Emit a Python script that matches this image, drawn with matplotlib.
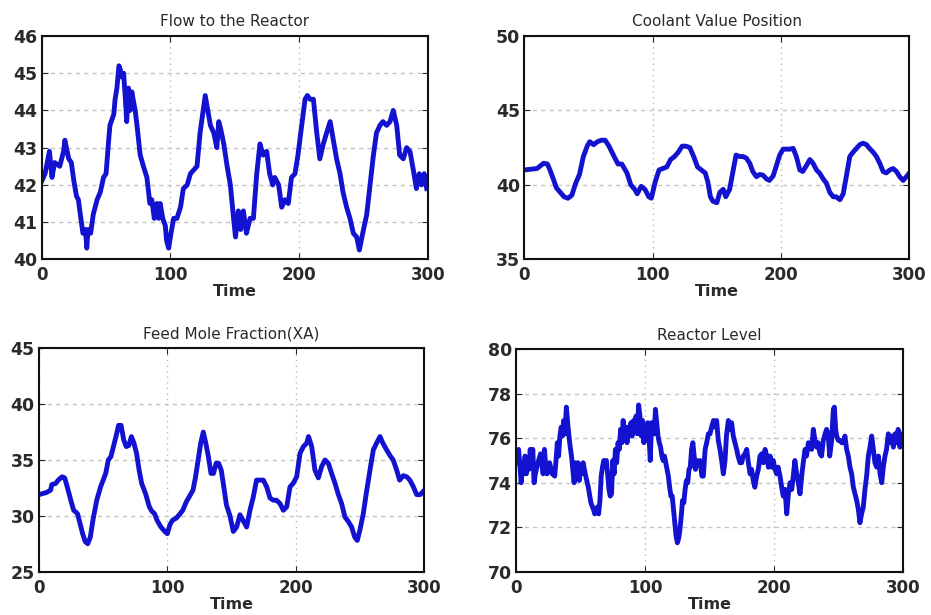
import matplotlib
matplotlib.use("Agg")
import matplotlib.pyplot as plt

# ---------------- data ----------------
flow_t = [0, 2.6, 6, 8, 10, 14, 17, 18, 21, 23, 25, 27, 28.5, 30, 32, 34, 35, 36, 38, 40,
          43, 45.5, 48, 50, 52, 53, 56, 57, 58.4, 60, 61, 62, 63.6, 65, 66, 67.4, 68.7, 70, 71,
          72.6, 74, 76.5, 79, 81.7, 84, 85.6, 87.4, 89.5, 90.8, 92, 94, 96, 97, 98.6, 100.4,
          102.5, 105, 107.8, 110, 113, 115.5, 118, 120.6, 123, 125, 127, 129, 131, 133.6, 136,
          137.5, 139, 141.4, 144, 146.5, 149, 150.5, 152.7, 154.5, 156.6, 159, 161.8, 164.4,
          167, 169.5, 172, 174.7, 177, 179.4, 181, 184, 186.4, 189, 191.5, 194, 196.7, 199,
          201.9, 204.5, 206.3, 208.4, 211, 213.6, 216, 218.7, 221.3, 224, 226.5, 229, 231.7,
          234, 236.8, 239.4, 242, 244.6, 246.7, 249.3, 252.4, 255, 257.6, 260, 262.7, 265,
          267.9, 270.5, 273, 275.7, 278, 280.8, 283.4, 286, 288.6, 291, 293.2, 295, 297, 299]
flow_v = [42.1, 42.3, 42.9, 42.2, 42.6, 42.5, 42.9, 43.2, 42.7, 42.6, 42.1, 41.7, 41.6, 41.2,
          40.7, 40.8, 40.3, 40.8, 40.7, 41.2, 41.6, 41.8, 42.2, 42.3, 43.2, 43.6, 43.9, 44.3,
          44.6, 45.2, 45.1, 44.9, 45.0, 44.3, 43.7, 44.6, 44.0, 44.5, 44.3, 44.0, 43.6, 42.8,
          42.5, 42.2, 41.5, 41.6, 41.1, 41.5, 41.1, 41.5, 41.1, 40.9, 40.5, 40.3, 40.7, 41.1,
          41.1, 41.4, 41.9, 42.0, 42.3, 42.4, 42.5, 43.4, 43.9, 44.4, 44.0, 43.6, 43.4, 43.0,
          43.7, 43.5, 43.1, 42.5, 42.0, 41.1, 40.6, 41.3, 40.8, 41.3, 40.7, 41.1, 41.1, 42.3,
          43.1, 42.8, 42.9, 42.3, 42.0, 42.2, 42.0, 41.4, 41.6, 41.5, 42.2, 42.3, 42.8, 43.6,
          44.3, 44.4, 44.3, 44.3, 43.4, 42.7, 43.1, 43.4, 43.7, 43.2, 42.7, 42.3, 41.8, 41.4,
          41.1, 40.7, 40.6, 40.25, 40.7, 41.2, 42.0, 42.8, 43.4, 43.6, 43.7, 43.6, 43.7, 44.0,
          43.6, 42.8, 42.7, 43.0, 42.9, 42.4, 41.9, 42.3, 42.0, 42.3, 41.9]

cool_t = [0, 10, 15, 18, 20, 23, 25, 28, 31, 34, 37, 40, 43, 46, 49, 51, 54, 57, 60, 63, 66,
          70, 73, 76, 80, 83, 86, 88, 91, 94, 97, 99, 102, 105, 108, 111, 114, 117, 120, 123,
          126, 129, 132, 135, 138, 141, 143, 145, 147, 150, 152.4, 155, 157, 160, 162.8, 165,
          168, 170.5, 173, 175.7, 178, 180.9, 183.5, 186, 188.7, 191, 193.9, 196.5, 199, 201.7,
          204, 206.9, 209.5, 212, 214.7, 217, 219.9, 222.5, 225, 227.7, 230, 232.9, 235.5, 238,
          240.7, 243, 245.9, 248.5, 251, 253.6, 256.2, 258.8, 261.4, 264, 266.6, 269, 271.8,
          274.4, 277, 279.6, 282, 284.8, 287.4, 290, 292.5, 295.2, 297.8, 300]
cool_v = [41.0, 41.1, 41.45, 41.4, 41.0, 40.3, 39.8, 39.5, 39.2, 39.1, 39.3, 40.1, 40.7, 41.9,
          42.6, 42.9, 42.7, 42.9, 43.0, 43.0, 42.6, 41.9, 41.4, 41.4, 40.8, 40.0, 39.7, 39.4,
          39.9, 39.7, 39.2, 39.1, 40.2, 41.0, 41.1, 41.2, 41.7, 41.9, 42.2, 42.6, 42.6, 42.5,
          41.9, 41.2, 41.0, 40.8, 40.2, 39.2, 38.9, 38.8, 39.5, 39.7, 39.2, 39.7, 41.0, 42.0,
          41.9, 41.9, 41.8, 41.45, 40.9, 40.55, 40.7, 40.65, 40.4, 40.3, 40.6, 41.3, 42.0, 42.4,
          42.4, 42.4, 42.45, 41.9, 41.0, 40.9, 41.3, 41.7, 41.45, 41.0, 40.8, 40.4, 40.1, 39.5,
          39.2, 39.2, 39.0, 39.4, 40.6, 41.9, 42.2, 42.45, 42.7, 42.8, 42.7, 42.45, 42.2, 41.9,
          41.45, 40.9, 40.8, 41.0, 41.1, 40.9, 40.55, 40.3, 40.55, 40.8]

feed_t = [0, 3, 6, 9, 10, 13, 15, 18, 20, 22, 25, 27, 30, 32, 34, 36, 38, 40, 42, 45, 48, 50,
          52, 54, 56, 58, 60, 62, 64, 66, 68, 70, 72, 74, 76, 78, 80, 83, 86, 88, 90, 92, 95,
          98, 100, 102, 104, 107, 110, 112, 115, 118, 120, 122, 124, 126, 128, 130, 132, 134,
          136, 138, 140, 142, 144, 146, 148.8, 151.4, 154, 156.6, 159, 161.8, 164.4, 167,
          169.5, 172, 174.8, 177.4, 180, 182.6, 185, 187.8, 190.4, 193, 195.6, 198, 200.8,
          203.4, 206, 208.6, 210, 212.5, 215, 217.7, 220.2, 222.8, 225.5, 228, 230.7, 233,
          235.8, 238.4, 241, 243.6, 246, 248, 250, 252.7, 255, 257.9, 260.5, 263, 265.7, 268,
          270.9, 273.5, 276, 278.7, 281, 283.9, 286.5, 289, 291.7, 294.3, 297, 299.5]
feed_v = [31.9, 32.0, 32.1, 32.3, 32.8, 32.9, 33.2, 33.5, 33.4, 32.6, 31.3, 30.5, 30.2, 29.3,
          28.4, 27.7, 27.5, 28.1, 29.6, 31.4, 32.6, 33.2, 33.8, 35.0, 35.3, 36.2, 37.1, 38.1,
          38.1, 36.8, 36.2, 36.3, 37.1, 36.5, 35.6, 34.1, 32.9, 32.0, 30.8, 30.4, 30.2, 29.6,
          29.0, 28.6, 28.4, 29.2, 29.6, 29.8, 30.2, 30.5, 31.3, 31.9, 32.3, 33.5, 35.0, 36.5,
          37.5, 36.5, 35.3, 33.8, 33.8, 34.7, 34.7, 34.1, 32.6, 31.0, 30.0, 28.6, 29.0, 30.1,
          29.6, 29.0, 30.5, 31.7, 33.2, 33.2, 33.2, 32.6, 31.6, 31.4, 31.4, 31.1, 30.5, 30.8,
          32.6, 32.9, 33.5, 35.6, 36.2, 36.5, 37.1, 36.2, 34.1, 33.4, 34.4, 35.0, 34.7, 33.8,
          32.9, 32.0, 31.1, 29.9, 29.5, 29.0, 28.1, 27.8, 28.7, 30.2, 32.0, 34.1, 35.9, 36.5,
          37.1, 36.5, 35.9, 35.4, 35.0, 34.1, 33.2, 33.6, 33.5, 33.2, 32.6, 31.9, 31.9, 32.2]

level_t = [0, 1, 2, 3, 4, 5, 6, 7, 8, 9, 10, 11, 12, 13, 14, 15, 17, 19, 20, 21, 22, 23, 24,
           26, 28, 30, 31, 32, 33, 34, 35, 36, 37, 38, 39, 40, 41, 42, 43, 44, 45, 46, 47, 48,
           49, 50, 51, 52, 54, 56, 58, 60, 61, 63, 64, 65, 66, 67, 68, 69, 70, 71, 72, 73, 74,
           75, 76, 77, 78, 79, 80, 81, 82, 83, 84, 85, 86, 87, 88, 89, 90, 91, 92, 93, 94, 95,
           96, 97, 98, 99, 100, 101, 102, 103, 104, 105, 106, 107, 108, 109, 110, 111, 112, 113,
           114, 115, 116, 117, 118, 119, 120, 121, 122, 123, 124, 125, 126, 127, 128, 129, 130,
           131, 132, 133, 134, 135, 136, 137, 138, 139, 140, 141, 142.5, 144, 145.1, 146.5,
           147.7, 149, 150.3, 151.5, 153, 154, 155.4, 156.7, 158, 159.3, 160.6, 161.9, 163,
           164.5, 165.7, 167, 168.3, 169.6, 170.9, 172, 173.5, 174.8, 176, 177.4, 178.7, 180,
           181.3, 182.5, 183.8, 185, 186.4, 187.7, 189, 190.3, 191.6, 192.9, 194.2, 195.5,
           196.8, 198, 199.3, 200.6, 201.9, 203, 204.5, 205.8, 207, 208.4, 209.7, 211, 212.3,
           213.6, 214.8, 216, 217.4, 218.7, 220, 221.3, 222.5, 223.9, 225, 226.5, 227.7, 229,
           230.3, 231.6, 232.9, 234, 235.5, 236.7, 238, 239.4, 240.6, 241.9, 243, 244.5, 245.8,
           246.6, 247.6, 248.4, 249.7, 251, 252.3, 253.5, 254.8, 256.1, 257.4, 258.7, 260,
           261.3, 262.6, 263.9, 265.2, 266.4, 267.7, 269, 270.3, 271.6, 272.9, 274.2, 275.5,
           276.8, 278, 279.4, 280.7, 282, 283.3, 284.5, 285.8, 287, 288.4, 289.7, 291, 292.3,
           293.6, 294.8, 296, 297.4, 298.7, 300]
level_v = [75.3, 74.9, 75.5, 74.8, 74.0, 74.9, 74.4, 75.2, 74.4, 75.0, 74.6, 75.5, 74.8, 75.5,
           74.0, 74.4, 74.9, 75.3, 74.9, 74.4, 75.5, 74.8, 74.4, 74.9, 74.4, 74.3, 75.0, 75.8,
           75.2, 76.1, 76.5, 76.1, 76.8, 76.2, 77.4, 76.7, 76.1, 75.6, 75.2, 74.6, 74.0, 74.9,
           74.3, 74.9, 74.1, 74.8, 74.4, 74.9, 74.3, 73.8, 73.1, 72.8, 72.6, 72.9, 72.6, 73.2,
           74.3, 74.7, 75.0, 74.9, 75.0, 74.4, 73.7, 73.4, 73.5, 75.0, 74.4, 75.5, 74.9, 75.8,
           75.5, 76.4, 75.8, 76.8, 76.1, 76.5, 75.8, 76.5, 76.1, 76.7, 76.1, 76.8, 76.4, 77.0,
           76.2, 77.5, 77.0, 76.1, 76.8, 75.8, 76.4, 75.9, 76.7, 76.1, 75.0, 76.7, 76.5, 76.2,
           77.3, 76.7, 76.1, 75.8, 75.6, 75.2, 75.0, 75.2, 74.9, 74.6, 74.3, 73.8, 73.4, 73.4,
           72.8, 72.2, 71.6, 71.3, 71.5, 71.9, 72.5, 73.2, 73.1, 73.7, 74.1, 74.0, 74.6, 74.7,
           75.5, 75.8, 75.2, 74.6, 75.0, 74.9, 75.0, 74.3, 74.3, 75.5, 75.8, 76.2, 76.2, 76.5,
           76.8, 76.5, 76.8, 75.9, 75.5, 75.0, 74.4, 75.0, 76.1, 76.8, 76.4, 76.7, 76.1, 75.8,
           75.5, 75.2, 74.9, 74.9, 75.2, 75.3, 75.5, 74.9, 74.4, 74.6, 74.1, 73.8, 74.3, 74.6,
           75.2, 75.3, 74.9, 75.5, 75.2, 74.7, 75.2, 74.7, 75.0, 74.6, 74.4, 74.7, 74.3, 73.8,
           73.4, 73.7, 72.6, 73.5, 74.0, 73.7, 74.3, 75.0, 74.4, 74.0, 73.5, 74.3, 74.9, 75.5,
           75.2, 75.8, 75.6, 75.5, 76.4, 75.9, 75.6, 75.8, 75.3, 75.2, 75.9, 76.2, 76.4, 76.1,
           75.2, 75.9, 77.3, 77.4, 76.4, 76.1, 75.9, 75.9, 75.8, 75.8, 76.1, 75.5, 75.2, 74.7,
           74.4, 73.8, 73.5, 73.2, 72.8, 72.2, 72.6, 72.9, 73.7, 74.3, 75.2, 75.6, 76.1, 75.5,
           74.9, 74.7, 75.2, 74.4, 74.0, 74.7, 75.2, 75.5, 76.2, 75.8, 76.1, 75.6, 76.2, 75.8,
           76.4, 75.6, 76.2, 75.9]

titles = ["Flow to the Reactor", "Coolant Value Position",
          "Feed Mole Fraction(XA)", "Reactor Level"]
xlabel = "Time"
x_ticks = [0, 100, 200, 300]
y_ticks_list = [[40, 41, 42, 43, 44, 45, 46], [35, 40, 45, 50],
                [25, 30, 35, 40, 45], [70, 72, 74, 76, 78, 80]]

# ---------------- plot ----------------
plt.rcParams['font.family'] = ['DejaVu Sans']
fig = plt.figure(figsize=(9.31, 6.15), dpi=100)

W, H = 931, 615
boxes = [(41.7, 36, 428, 259.3), (524.3, 36, 909.3, 259.3),
         (39, 348.3, 424, 571.7), (516, 349.3, 903.3, 571.7)]
series = [(flow_t, flow_v), (cool_t, cool_v), (feed_t, feed_v), (level_t, level_v)]
txt = '#2a2a2a'

for (x0, y0, x1, y1), (t, v), title, yt in zip(boxes, series, titles, y_ticks_list):
    ax = fig.add_axes([x0 / W, 1 - y1 / H, (x1 - x0) / W, (y1 - y0) / H])
    ax.plot(t, v, color='#1212d0', lw=3.5, solid_joinstyle='round')
    ax.set_xlim(0, 300)
    ax.set_ylim(yt[0], yt[-1])
    ax.set_xticks(x_ticks)
    ax.set_yticks(yt)
    ax.xaxis.grid(True, color='#b8b8b8', linestyle=(0, (1, 3)), lw=1.0)
    ax.yaxis.grid(True, color='#c4c4c4', linestyle=(0, (3, 3)), lw=1.0)
    ax.tick_params(direction='in', top=True, right=True, length=4, width=0.8,
                   colors=txt)
    ax.tick_params(axis='y', labelsize=12.5, pad=3)
    ax.tick_params(axis='x', labelsize=12, pad=5)
    for lab in ax.get_xticklabels() + ax.get_yticklabels():
        lab.set_fontweight('bold')
    for s in ax.spines.values():
        s.set_linewidth(1.5)
        s.set_color('#111111')
    ax.set_title(title, fontsize=11, color=txt, pad=7)
    ax.set_xlabel(xlabel, fontsize=11.5, color=txt, fontweight='bold', labelpad=0)

fig.savefig("out.png", dpi=100)
